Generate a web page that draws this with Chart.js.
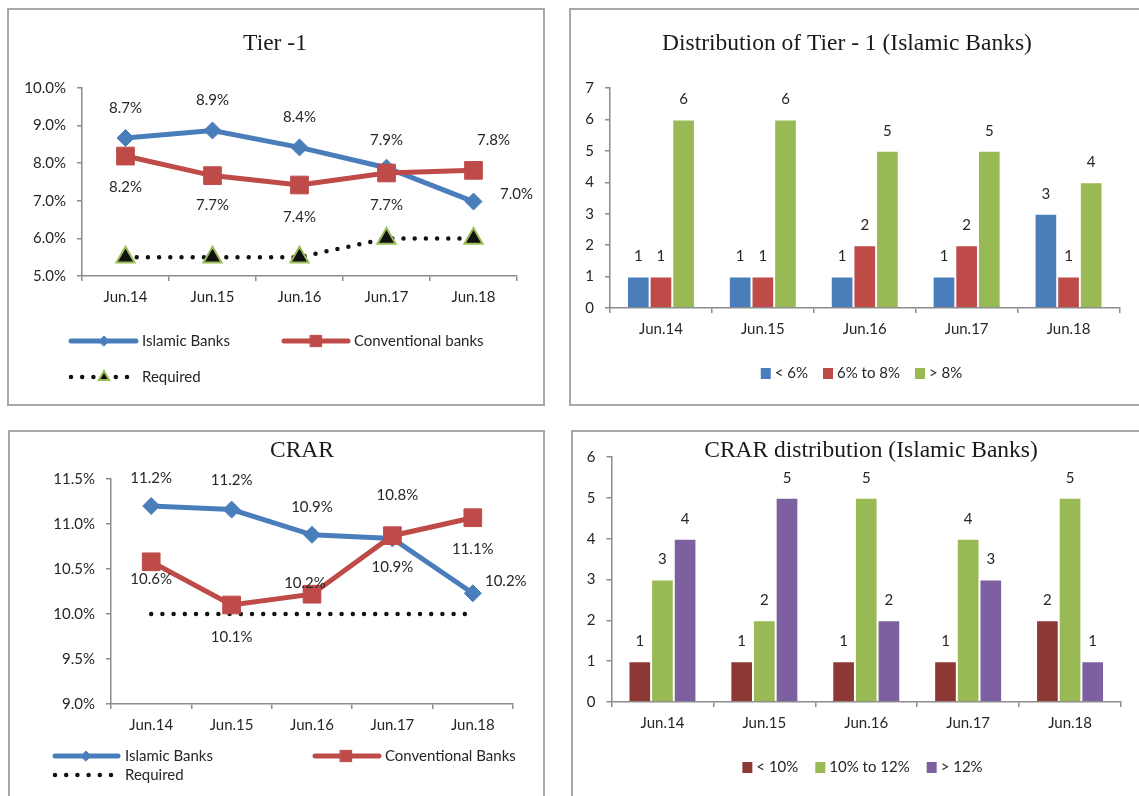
<!DOCTYPE html>
<html lang="en">
<head>
<meta charset="utf-8">
<title>Tier 1 and CRAR</title>
<script src="https://cdn.jsdelivr.net/npm/chart.js@4.4.1/dist/chart.umd.min.js"></script>
<style>
  html, body { margin: 0; padding: 0; background: #fff; }
  body { position: relative; width: 1139px; height: 796px; overflow: hidden; }
  .panel { position: absolute; box-sizing: border-box; border: 2px solid #a8a8a8; background: #fff; }
  .panel canvas { position: absolute; left: 0; top: 0; }
</style>
</head>
<body>
<div class="panel" style="left:7px;top:8px;width:538px;height:398px"><canvas id="tier1Chart" width="534" height="394"></canvas></div>
<div class="panel" style="left:569px;top:8px;width:580px;height:398px"><canvas id="tier1DistChart" width="568" height="394"></canvas></div>
<div class="panel" style="left:8px;top:430px;width:537px;height:380px"><canvas id="crarChart" width="533" height="364"></canvas></div>
<div class="panel" style="left:571px;top:430px;width:580px;height:380px"><canvas id="crarDistChart" width="566" height="364"></canvas></div>

<script>
const periods = ["Jun.14", "Jun.15", "Jun.16", "Jun.17", "Jun.18"];

// Tier 1 capital ratio, %
const tier1Islamic = [8.67, 8.87, 8.42, 7.88, 6.98];
const tier1Conventional = [8.19, 7.67, 7.42, 7.74, 7.81];
const tier1Required = [5.5, 5.5, 5.5, 6.0, 6.0];
const tier1Ticks = [5, 6, 7, 8, 9, 10];

// number of Islamic banks in each Tier 1 band
const tier1Below6 = [1, 1, 1, 1, 3];
const tier1From6To8 = [1, 1, 2, 2, 1];
const tier1Above8 = [6, 6, 5, 5, 4];
const tier1CountTicks = [0, 1, 2, 3, 4, 5, 6, 7];

// capital to risk-weighted assets ratio, %
const crarIslamic = [11.2, 11.16, 10.88, 10.84, 10.23];
const crarConventional = [10.58, 10.1, 10.22, 10.87, 11.07];
const crarRequired = [10, 10, 10, 10, 10];
const crarTicks = [9, 9.5, 10, 10.5, 11, 11.5];

// number of Islamic banks in each CRAR band
const crarBelow10 = [1, 1, 1, 1, 2];
const crarFrom10To12 = [3, 2, 5, 4, 5];
const crarAbove12 = [4, 5, 2, 3, 1];
const crarCountTicks = [0, 1, 2, 3, 4, 5, 6];

const BLUE = "#4a7ebb";
const RED = "#be4b48";
const GREEN = "#98b954";
const PURPLE = "#7d60a0";
const DARK_RED = "#8e3836";
const AXIS_GRAY = "#8c8c8c";
const TEXT_COLOR = "#262626";
const SANS = 'Lato, "Open Sans", sans-serif';
const SERIF = '"Liberation Serif", "DejaVu Serif", serif';

Chart.defaults.font.family = SANS;
Chart.defaults.font.size = 15;
Chart.defaults.color = TEXT_COLOR;

const panelTitle = {
  id: "panelTitle",
  afterDraw(chart, args, opts) {
    if (!opts.text) return;
    const { ctx } = chart;
    ctx.save();
    ctx.font = `23.5px ${SERIF}`;
    ctx.fillStyle = "#1a1a1a";
    ctx.textAlign = "center";
    ctx.textBaseline = "middle";
    ctx.fillText(opts.text, opts.x, opts.y);
    ctx.restore();
  },
};

// value labels next to each point / on top of each bar
const valueLabels = {
  id: "valueLabels",
  afterDatasetsDraw(chart, args, opts) {
    const { ctx } = chart;
    ctx.save();
    ctx.font = `15px ${SANS}`;
    ctx.fillStyle = TEXT_COLOR;
    ctx.textAlign = "center";
    ctx.textBaseline = "middle";
    chart.data.datasets.forEach((ds, i) => {
      const offsets = opts.offsets ? opts.offsets[i] : null;
      if (opts.offsets && !offsets) return;
      chart.getDatasetMeta(i).data.forEach((el, j) => {
        const [dx, dy] = offsets ? offsets[j] : opts.offset;
        ctx.fillText(ds.data[j].toFixed(opts.decimals) + opts.suffix, el.x + dx, el.y + dy);
      });
    });
    ctx.restore();
  },
};

function drawMarker(ctx, ds, x, y, radius) {
  ctx.fillStyle = ds.pointBackgroundColor || ds.borderColor;
  ctx.strokeStyle = ds.pointBorderColor || ds.borderColor;
  ctx.lineWidth = ds.pointBorderWidth || 1;
  Chart.helpers.drawPoint(ctx, { pointStyle: ds.pointStyle, radius, rotation: 0, borderWidth: ctx.lineWidth }, x, y);
}

// legend drawn at fixed spots: line samples for the line charts, colour boxes for the bar charts
const keyLegend = {
  id: "keyLegend",
  afterDraw(chart, args, opts) {
    const { ctx } = chart;
    ctx.save();
    ctx.font = `15px ${SANS}`;
    ctx.textBaseline = "middle";
    (opts.lines || []).forEach((item) => {
      const ds = chart.data.datasets[item.index];
      ctx.save();
      ctx.strokeStyle = ds.borderColor;
      ctx.lineWidth = ds.borderWidth;
      ctx.lineCap = "round";
      ctx.setLineDash(ds.borderDash || []);
      ctx.beginPath();
      ctx.moveTo(item.x1, item.y);
      ctx.lineTo(item.x2, item.y);
      ctx.stroke();
      ctx.setLineDash([]);
      if (item.radius) drawMarker(ctx, ds, item.markerX, item.y, item.radius);
      ctx.restore();
      ctx.fillStyle = TEXT_COLOR;
      ctx.textAlign = "left";
      ctx.fillText(ds.label, item.textX, item.y);
    });
    if (opts.boxes) {
      const { x, y, size, gap, spacing } = opts.boxes;
      const items = chart.data.datasets.map((ds) => ({
        label: ds.label,
        color: ds.backgroundColor,
        w: ctx.measureText(ds.label).width,
      }));
      const total = items.reduce((s, it) => s + size + gap + it.w, 0) + spacing * (items.length - 1);
      let cx = x - total / 2;
      items.forEach((it) => {
        ctx.fillStyle = it.color;
        ctx.fillRect(cx, y - size / 2, size, size + 1);
        cx += size + gap;
        ctx.fillStyle = TEXT_COLOR;
        ctx.textAlign = "left";
        ctx.fillText(it.label, cx, y);
        cx += it.w + spacing;
      });
    }
    ctx.restore();
  },
};

function categoryAxis(height) {
  return {
    type: "category",
    offset: true,
    grid: { display: true, drawOnChartArea: false, drawTicks: true, tickLength: 5, offset: true, color: AXIS_GRAY, lineWidth: 1.5 },
    border: { display: true, color: AXIS_GRAY, width: 1.5 },
    ticks: { padding: 7, maxRotation: 0, autoSkip: false, color: TEXT_COLOR },
    afterFit(scale) {
      scale.height = height;
    },
  };
}

function valueAxis(ticks, width, decimals, suffix) {
  return {
    min: ticks[0],
    max: ticks[ticks.length - 1],
    afterBuildTicks(scale) {
      scale.ticks = ticks.map((v) => ({ value: v }));
    },
    grid: { display: true, drawOnChartArea: false, drawTicks: true, tickLength: 5, color: AXIS_GRAY, lineWidth: 1.5 },
    border: { display: true, color: AXIS_GRAY, width: 1.5 },
    ticks: {
      padding: 11,
      color: TEXT_COLOR,
      callback(value) {
        return Number(value).toFixed(decimals) + suffix;
      },
    },
    afterFit(scale) {
      scale.width = width;
    },
  };
}

function lineSeries(label, data, color, pointStyle, radius, order) {
  return {
    label,
    data,
    order,
    borderColor: color,
    backgroundColor: color,
    borderWidth: 5,
    pointStyle,
    pointRadius: radius,
    pointBackgroundColor: color,
    pointBorderColor: color,
    pointBorderWidth: 1,
    tension: 0,
  };
}

function requiredSeries(data, radius) {
  return {
    label: "Required",
    data,
    order: 2,
    borderColor: "#111111",
    backgroundColor: "#111111",
    borderWidth: 4.5,
    borderDash: [0, 11.2],
    borderCapStyle: "round",
    pointStyle: "triangle",
    pointRadius: radius,
    pointBackgroundColor: "#111111",
    pointBorderColor: "#9bbb59",
    pointBorderWidth: 2,
    tension: 0,
  };
}

function barSeries(label, data, color) {
  return {
    label,
    data,
    backgroundColor: color,
    borderColor: "rgba(255,255,255,0.25)",
    borderWidth: 1,
    borderSkipped: "bottom",
    barPercentage: 1,
    categoryPercentage: 0.667,
  };
}

const baseOptions = {
  responsive: false,
  animation: false,
  devicePixelRatio: 1,
  events: [],
};

new Chart(document.getElementById("tier1Chart"), {
  type: "line",
  data: {
    labels: periods,
    datasets: [
      lineSeries("Islamic Banks", tier1Islamic, BLUE, "rectRot", 8.5, 1),
      lineSeries("Conventional banks", tier1Conventional, RED, "rect", 12.5, 0),
      requiredSeries(tier1Required, 10.5),
    ],
  },
  options: {
    ...baseOptions,
    layout: { padding: { top: 78, right: 26, bottom: 88, left: 0 } },
    scales: {
      x: categoryAxis(40),
      y: valueAxis(tier1Ticks, 73, 1, "%"),
    },
    plugins: {
      legend: { display: false },
      tooltip: { enabled: false },
      panelTitle: { text: "Tier -1", x: 266, y: 34 },
      valueLabels: {
        decimals: 1,
        suffix: "%",
        offsets: [
          [[0, -30], [0, -30], [0, -30], [0, -28], [43, -7]],
          [[0, 31], [0, 30], [0, 32], [0, 32], [20, -30]],
          null,
        ],
      },
      keyLegend: {
        lines: [
          { index: 0, x1: 62, x2: 127, y: 331, markerX: 95, radius: 5, textX: 133 },
          { index: 1, x1: 275, x2: 339, y: 331, markerX: 307, radius: 8, textX: 345 },
          { index: 2, x1: 62, x2: 122, y: 367, markerX: 95, radius: 6, textX: 133 },
        ],
      },
    },
  },
  plugins: [panelTitle, valueLabels, keyLegend],
});

new Chart(document.getElementById("tier1DistChart"), {
  type: "bar",
  data: {
    labels: periods,
    datasets: [
      barSeries("< 6%", tier1Below6, BLUE),
      barSeries("6% to 8%", tier1From6To8, RED),
      barSeries("> 8%", tier1Above8, GREEN),
    ],
  },
  options: {
    ...baseOptions,
    layout: { padding: { top: 78, right: 19.5, bottom: 56, left: 0 } },
    scales: {
      x: categoryAxis(40),
      y: valueAxis(tier1CountTicks, 39, 0, ""),
    },
    plugins: {
      legend: { display: false },
      tooltip: { enabled: false },
      panelTitle: { text: "Distribution of Tier - 1 (Islamic Banks)", x: 276, y: 34 },
      valueLabels: { decimals: 0, suffix: "", offset: [0, -20] },
      keyLegend: { boxes: { x: 290.5, y: 363, size: 10, gap: 4, spacing: 15 } },
    },
  },
  plugins: [panelTitle, valueLabels, keyLegend],
});

new Chart(document.getElementById("crarChart"), {
  type: "line",
  data: {
    labels: periods,
    datasets: [
      lineSeries("Islamic Banks", crarIslamic, BLUE, "rectRot", 8.5, 1),
      lineSeries("Conventional Banks", crarConventional, RED, "rect", 12.5, 0),
      requiredSeries(crarRequired, 0),
    ],
  },
  options: {
    ...baseOptions,
    layout: { padding: { top: 47, right: 30, bottom: 52, left: 0 } },
    scales: {
      x: categoryAxis(40),
      y: valueAxis(crarTicks, 101, 1, "%"),
    },
    plugins: {
      legend: { display: false },
      tooltip: { enabled: false },
      panelTitle: { text: "CRAR", x: 292, y: 19 },
      valueLabels: {
        decimals: 1,
        suffix: "%",
        offsets: [
          [[0, -28], [0, -29], [0, -28], [5, -43], [33, -12]],
          [[0, 17], [0, 32], [-7, -11], [0, 31], [0, 31]],
          null,
        ],
      },
      keyLegend: {
        lines: [
          { index: 0, x1: 45, x2: 108, y: 324, markerX: 76, radius: 5, textX: 115 },
          { index: 1, x1: 305, x2: 369, y: 324, markerX: 336, radius: 8, textX: 375 },
          { index: 2, x1: 45, x2: 104, y: 343, radius: 0, textX: 115 },
        ],
      },
    },
  },
  plugins: [panelTitle, valueLabels, keyLegend],
});

new Chart(document.getElementById("crarDistChart"), {
  type: "bar",
  data: {
    labels: periods,
    datasets: [
      barSeries("< 10%", crarBelow10, DARK_RED),
      barSeries("10% to 12%", crarFrom10To12, GREEN),
      barSeries("> 12%", crarAbove12, PURPLE),
    ],
  },
  options: {
    ...baseOptions,
    layout: { padding: { top: 25, right: 18, bottom: 54, left: 0 } },
    scales: {
      x: categoryAxis(40),
      y: valueAxis(crarCountTicks, 38.5, 0, ""),
    },
    plugins: {
      legend: { display: false },
      tooltip: { enabled: false },
      panelTitle: { text: "CRAR distribution (Islamic Banks)", x: 298, y: 19 },
      valueLabels: { decimals: 0, suffix: "", offset: [0, -20] },
      keyLegend: { boxes: { x: 289.5, y: 335, size: 10, gap: 4, spacing: 17 } },
    },
  },
  plugins: [panelTitle, valueLabels, keyLegend],
});
</script>
</body>
</html>
